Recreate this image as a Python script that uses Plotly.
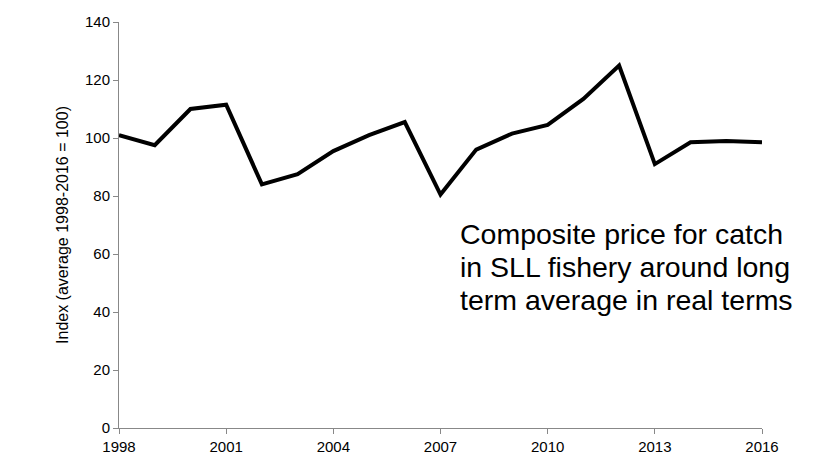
import plotly.graph_objects as go

years = list(range(1998, 2017))
index_values = [101, 97.5, 110, 111.5, 84, 87.5, 95.5, 101, 105.5, 80.5, 96, 101.5, 104.5, 113.5, 125, 91, 98.5, 99, 98.5]
tick_years = [1998, 2001, 2004, 2007, 2010, 2013, 2016]
note_lines = ["Composite price for catch", "in SLL fishery around long", "term average in real terms"]
note_y = [67.0, 55.5, 44.0]

fig = go.Figure(go.Scatter(x=years, y=index_values, mode="lines",
                           line=dict(color="black", width=4)))
for txt, yy in zip(note_lines, note_y):
    fig.add_annotation(x=2007.5, y=yy, xref="x", yref="y", xanchor="left", yanchor="middle",
                       showarrow=False, text=txt, font=dict(size=28.5))
fig.add_shape(type="line", xref="paper", yref="paper", x0=1.08, x1=1.08, y0=-0.1, y1=1.05,
              line=dict(color="#e6e6e6", width=2, dash="dot"))
fig.update_layout(
    width=817, height=468, plot_bgcolor="white", paper_bgcolor="white",
    margin=dict(l=111, r=63, t=14, b=48), showlegend=False,
    font=dict(family="Liberation Sans, Arial", size=15, color="#000"),
)
fig.update_xaxes(range=[1998, 2016], tickvals=tick_years, showline=True, linecolor="#888", automargin=False,
                 ticks="outside", ticklen=5, tickcolor="#888", showgrid=False, zeroline=False)
fig.update_yaxes(range=[0, 140], dtick=20, showline=True, linecolor="#888", automargin=False,
                 ticks="outside", ticklen=5, tickcolor="#888", showgrid=False, zeroline=False,
                 title=dict(text="Index (average 1998-2016 = 100)", font=dict(size=16), standoff=12))
fig.write_html("out.html")
